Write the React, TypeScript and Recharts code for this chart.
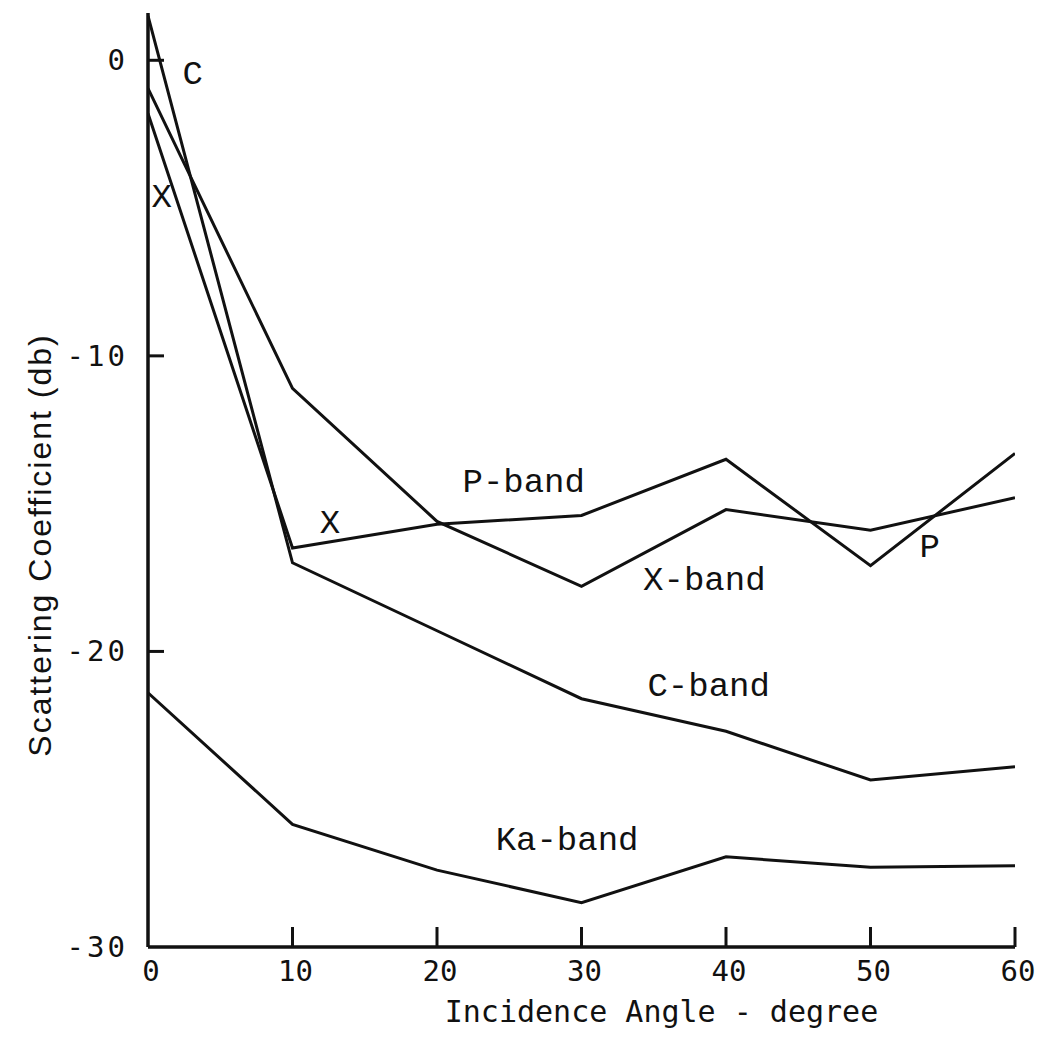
import { LineChart, Line, XAxis, YAxis, ReferenceDot } from "recharts";

// incidence angle (deg) and the four curves (dB)
const angles = [0, 10, 20, 30, 40, 50, 60];
const xBand = [-0.95, -11.1, -15.6, -17.8, -15.2, -15.9, -14.8];
const pBand = [-1.8, -16.5, -15.7, -15.4, -13.5, -17.1, -13.3];
const cBand = [1.5, -17.0, -19.3, -21.6, -22.7, -24.35, -23.9];
const kaBand = [-21.4, -25.85, -27.4, -28.5, -26.95, -27.3, -27.25];

const xTicks = [0, 10, 20, 30, 40, 50, 60];
const yTicks = [0, -10, -20, -30];

// curve annotations, in data units
const notes = [
  { text: "C", x: 3.1, y: -0.4 },
  { text: "X", x: 0.95, y: -4.55 },
  { text: "X", x: 12.6, y: -15.6 },
  { text: "P-band", x: 26.0, y: -14.2 },
  { text: "X-band", x: 38.5, y: -17.5 },
  { text: "C-band", x: 38.8, y: -21.1 },
  { text: "Ka-band", x: 29.0, y: -26.3 },
  { text: "P", x: 54.1, y: -16.4 },
];

const data = angles.map((a, i) => ({
  angle: a,
  x: xBand[i],
  p: pBand[i],
  c: cBand[i],
  ka: kaBand[i],
}));

const INK = "#111";
const MONO = "'DejaVu Sans Mono', monospace";

// ticks point inward, labels sit outside
// eslint-disable-next-line @typescript-eslint/no-explicit-any
const XTick = (props: any) => {
  const { x, y, payload } = props;
  return (
    <g>
      {payload.value !== 0 && (
        <line x1={x} y1={y} x2={x} y2={y - 20} stroke={INK} strokeWidth={3} />
      )}
      <text
        x={x + 3}
        y={y + 24}
        textAnchor="middle"
        dominantBaseline="central"
        fill={INK}
        fontSize={29}
        fontFamily={MONO}
      >
        {payload.value}
      </text>
    </g>
  );
};

// eslint-disable-next-line @typescript-eslint/no-explicit-any
const YTick = (props: any) => {
  const { x, y, payload } = props;
  return (
    <g>
      {payload.value !== -30 && (
        <line x1={x} y1={y} x2={x + 16} y2={y} stroke={INK} strokeWidth={3} />
      )}
      <text
        x={x - 20}
        y={y}
        textAnchor="end"
        dominantBaseline="central"
        fill={INK}
        fontSize={29}
        fontFamily={MONO}
        letterSpacing={3}
      >
        {`${payload.value}`}
      </text>
    </g>
  );
};

export default function App() {
  return (
    <div style={{ position: "absolute", left: 0, top: 0, background: "#fff" }}>
      <LineChart
        width={1053}
        height={1049}
        data={data}
        margin={{ top: 13, right: 38, bottom: 0, left: 0 }}
      >
        <XAxis
          type="number"
          dataKey="angle"
          domain={[0, 60]}
          ticks={xTicks}
          interval={0}
          height={102}
          tickSize={0}
          tickMargin={0}
          tickLine={false}
          tick={XTick}
          axisLine={{ stroke: INK, strokeWidth: 3.5 }}
          allowDataOverflow
          label={{
            // eslint-disable-next-line @typescript-eslint/no-explicit-any
            content: (p: any) => {
              const vb = p.viewBox;
              return (
                <text
                  x={vb.x + vb.width / 2 + 80}
                  y={vb.y + 64}
                  textAnchor="middle"
                  dominantBaseline="central"
                  fill={INK}
                  fontSize={30}
                  fontFamily={MONO}
                >
                  Incidence Angle - degree
                </text>
              );
            },
          }}
        />
        <YAxis
          type="number"
          domain={[-30, 1.6]}
          ticks={yTicks}
          interval={0}
          width={148}
          tickSize={0}
          tickMargin={0}
          tickLine={false}
          tick={YTick}
          axisLine={{ stroke: INK, strokeWidth: 3.5 }}
          allowDataOverflow
          label={{
            // eslint-disable-next-line @typescript-eslint/no-explicit-any
            content: (p: any) => {
              const vb = p.viewBox;
              const cx = vb.x + 40;
              const cy = vb.y + vb.height / 2 + 65;
              return (
                <text
                  transform={`translate(${cx},${cy}) rotate(-90)`}
                  textAnchor="middle"
                  dominantBaseline="central"
                  fill={INK}
                  fontSize={32}
                  letterSpacing={2}
                  fontFamily="'Liberation Sans', Arial, sans-serif"
                >
                  Scattering Coefficient (db)
                </text>
              );
            },
          }}
        />
        <Line type="linear" dataKey="c" stroke={INK} strokeWidth={3} dot={false} isAnimationActive={false} />
        <Line type="linear" dataKey="x" stroke={INK} strokeWidth={3} dot={false} isAnimationActive={false} />
        <Line type="linear" dataKey="p" stroke={INK} strokeWidth={3} dot={false} isAnimationActive={false} />
        <Line type="linear" dataKey="ka" stroke={INK} strokeWidth={3} dot={false} isAnimationActive={false} />
        {notes.map((n, i) => (
          <ReferenceDot
            key={i}
            x={n.x}
            y={n.y}
            r={0}
            fill="none"
            stroke="none"
            label={{
              value: n.text,
              position: "center",
              fill: INK,
              fontSize: 34,
              fontFamily: "'Liberation Mono', monospace",
            }}
          />
        ))}
      </LineChart>
    </div>
  );
}
